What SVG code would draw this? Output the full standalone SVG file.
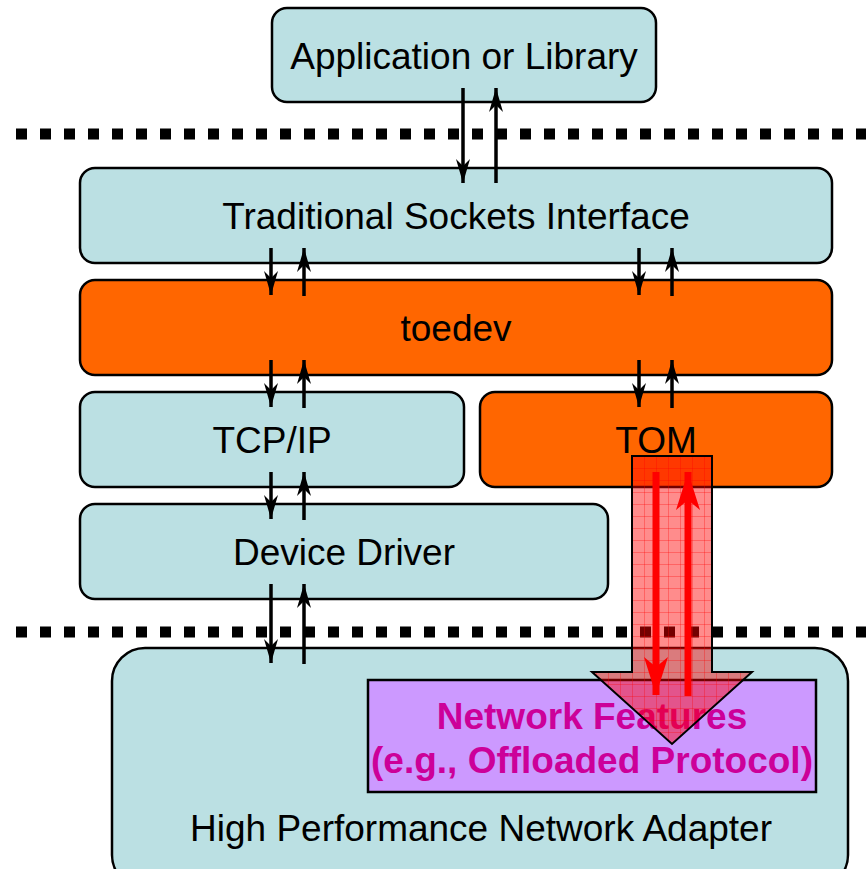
<svg xmlns="http://www.w3.org/2000/svg" width="866" height="869" viewBox="0 0 866 869">
<style>
.box{stroke:#000;stroke-width:2.5}
.teal{fill:#BBE0E3}
.orange{fill:#FF6600}
.lbl{font-family:"Liberation Sans",Arial,sans-serif;font-size:37px;fill:#000;text-anchor:middle}
.nf{font-family:"Liberation Sans",Arial,sans-serif;font-size:37px;font-weight:bold;fill:#CC0099;text-anchor:middle}
.dash{stroke:#000;stroke-width:11;stroke-dasharray:11 13}
.arr{stroke:#000;stroke-width:3.5;fill:none;marker-end:url(#ah)}
.rarr{stroke:#FF0000;stroke-width:7;fill:none;marker-end:url(#rh)}
</style>
<defs>
<marker id="ah" viewBox="0 0 24 14" refX="24" refY="7" markerWidth="24" markerHeight="14" markerUnits="userSpaceOnUse" orient="auto">
<path d="M0,0 L24,7 L0,14 L7,7 Z" fill="#000"/>
</marker>
<marker id="rh" viewBox="0 0 38 24" refX="38" refY="12" markerWidth="38" markerHeight="24" markerUnits="userSpaceOnUse" orient="auto">
<path d="M0,0 L38,12 L0,24 L10,12 Z" fill="#FF0000"/>
</marker>
<pattern id="grid" width="12" height="12" patternUnits="userSpaceOnUse" x="632" y="456">
<rect width="12" height="12" fill="#FF0000" fill-opacity="0.45"/>
<path d="M0,0 H12 M0,0 V12" stroke="#FF0000" stroke-width="1" stroke-opacity="0.6"/>
</pattern>
</defs>

<g id="app">
<rect class="box teal" x="272" y="8" width="384" height="94" rx="15"/>
<text class="lbl" x="464" y="69">Application or Library</text>
</g>

<g id="dividers">
<line class="dash" x1="16" y1="134" x2="866" y2="134"/>
<line class="dash" x1="16" y1="632" x2="866" y2="632"/>
</g>

<g id="sockets">
<rect class="box teal" x="80" y="168" width="752" height="95" rx="15"/>
<text class="lbl" x="456" y="229">Traditional Sockets Interface</text>
</g>

<g id="toedev">
<rect class="box orange" x="80" y="280" width="752" height="95" rx="15"/>
<text class="lbl" x="456" y="341">toedev</text>
</g>

<g id="tcpip">
<rect class="box teal" x="80" y="392" width="384" height="95" rx="15"/>
<text class="lbl" x="272" y="453">TCP/IP</text>
</g>

<g id="tom">
<rect class="box orange" x="480" y="392" width="352" height="95" rx="15"/>
<text class="lbl" x="656" y="453">TOM</text>
</g>

<g id="driver">
<rect class="box teal" x="80" y="504" width="528" height="95" rx="15"/>
<text class="lbl" x="344" y="565">Device Driver</text>
</g>

<g id="adapter">
<rect class="box teal" x="112" y="648" width="736" height="240" rx="33"/>
<text class="lbl" x="481" y="841">High Performance Network Adapter</text>
</g>

<g id="features">
<rect x="368" y="680" width="448" height="112" fill="#CC99FF" stroke="#000" stroke-width="2.5"/>
<text class="nf" x="592" y="729">Network Features</text>
<text class="nf" x="592" y="773">(e.g., Offloaded Protocol)</text>
</g>

<g id="connectors">
<line class="arr" x1="463" y1="88" x2="463" y2="183"/>
<line class="arr" x1="496" y1="183" x2="496" y2="88"/>

<line class="arr" x1="271" y1="248" x2="271" y2="295"/>
<line class="arr" x1="304" y1="296" x2="304" y2="248"/>
<line class="arr" x1="639" y1="248" x2="639" y2="295"/>
<line class="arr" x1="672" y1="296" x2="672" y2="248"/>

<line class="arr" x1="271" y1="360" x2="271" y2="407"/>
<line class="arr" x1="304" y1="408" x2="304" y2="360"/>
<line class="arr" x1="639" y1="360" x2="639" y2="407"/>
<line class="arr" x1="672" y1="408" x2="672" y2="360"/>

<line class="arr" x1="271" y1="472" x2="271" y2="519"/>
<line class="arr" x1="304" y1="520" x2="304" y2="472"/>

<line class="arr" x1="271" y1="584" x2="271" y2="663"/>
<line class="arr" x1="304" y1="664" x2="304" y2="584"/>

<path d="M632,456 L712,456 L712,672 L752,672 L672,744 L592,672 L632,672 Z" fill="url(#grid)" stroke="#000" stroke-width="2"/>
<line class="rarr" x1="656" y1="472" x2="656" y2="695"/>
<line class="rarr" x1="688" y1="696" x2="688" y2="472"/>
</g>
</svg>
